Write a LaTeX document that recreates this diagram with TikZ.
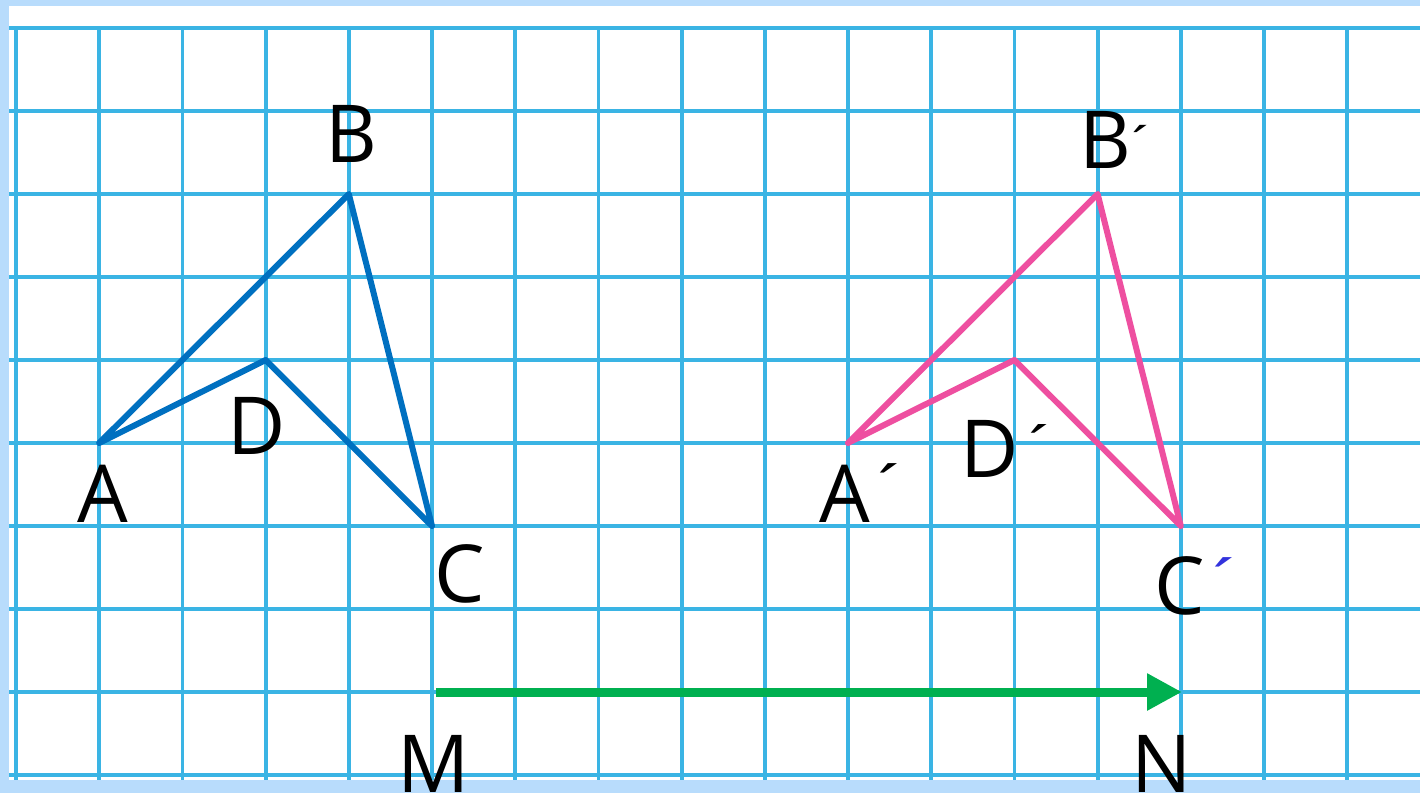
\documentclass[tikz,border=0pt]{standalone}
\usepackage{fontspec}
\setmainfont{Open Sans}
\newfontfamily\primefont{DejaVu Sans}
\usetikzlibrary{arrows.meta}
\definecolor{framec}{HTML}{B8DCFC}
\definecolor{gridc}{HTML}{3AB4E4}
\definecolor{triblue}{HTML}{0070C0}
\definecolor{tripink}{HTML}{EE4FA0}
\definecolor{arrowg}{HTML}{00B050}
\definecolor{primeblue}{HTML}{3333DD}
% prime mark: #1 gap, #2 raise, #3 colour, #4 size
\newcommand{\prm}[4]{\rlap{\hspace{#1}\raisebox{#2}{\color{#3}\primefont\fontsize{#4}{#4}\selectfont\scalebox{1.8}[1]{′}}}}
\begin{document}
\begin{tikzpicture}[x=0.5pt,y=-0.5pt,
  gridline/.style={gridc,line width=1.9pt},
  tri/.style={line width=3pt,line join=round,line cap=round},
  lbl/.style={font=\fontsize{40}{40}\selectfont,inner sep=0pt,anchor=base,text=black},
  movearrow/.style={arrowg,line width=4.5pt,-{Triangle[length=17.5pt,width=17.5pt]}}]
\useasboundingbox (0,0) rectangle (1420,793);
\fill[framec] (0,0) rectangle (1420,793);
\fill[white] (9,6) rectangle (1420,780);
\foreach \k in {0,...,16} \draw[gridline] ({16+83.2*\k},28) -- ({16+83.2*\k},780);
\foreach \k in {0,...,9} \draw[gridline] (9,{28+83*\k}) -- (1420,{28+83*\k});
% original figure
\coordinate (A) at (99.2,443);
\coordinate (D) at (265.6,360);
\coordinate (B) at (348.8,194);
\coordinate (C) at (432,526);
% translated figure
\coordinate (Ap) at (848,443);
\coordinate (Dp) at (1014.4,360);
\coordinate (Bp) at (1097.6,194);
\coordinate (Cp) at (1180.8,526);
\draw[tri,triblue] (A) -- (B) -- (C) -- (D) -- cycle;
\draw[tri,tripink] (Ap) -- (Bp) -- (Cp) -- (Dp) -- cycle;
% translation vector
\coordinate (M0) at (436,692);
\coordinate (N0) at (1182,692);
\draw[movearrow] (M0) -- (N0);
% labels
\node[lbl] (lB) at (351,162) {B};
\node[lbl] (lD) at (257,454) {D};
\node[lbl] (lA) at (103,522) {A};
\node[lbl] (lC) at (460,602) {C};
\node[lbl] (lBp) at (1105,168) {B\prm{1pt}{7pt}{black}{20}};
\node[lbl] (lAp) at (845,522) {A\prm{4pt}{10.5pt}{black}{26}};
\node[lbl] (lDp) at (990,477) {D\prm{5pt}{9pt}{black}{24}};
\node[lbl] (lCp) at (1180,614) {C\prm{4pt}{9.5pt}{primeblue}{26}};
\node[lbl] (lM) at (434,792) {M};
\node[lbl] (lN) at (1162,792) {N};
\end{tikzpicture}
\end{document}
